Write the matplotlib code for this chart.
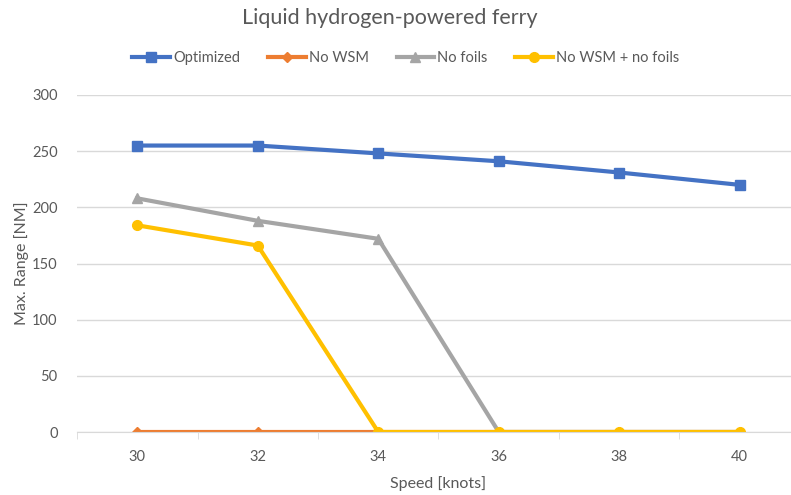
import matplotlib.pyplot as plt

speeds = ['30', '32', '34', '36', '38', '40']
optimized = [255, 255, 248, 241, 231, 220]
no_wsm = [0, 0, 0, 0, 0, 0]
no_foils = [208, 188, 172, 0, 0, 0]
no_wsm_no_foils = [184, 166, 0, 0, 0, 0]

plt.rcParams['font.family'] = ['Lato', 'DejaVu Sans']
txt = '#595959'

fig = plt.figure(figsize=(7.91, 4.95), dpi=100)
ax = fig.add_axes([77 / 791, 1 - 432 / 495, 723 / 791, 337 / 495])

x = list(range(len(speeds)))
ax.plot(x, optimized, color='#4472C4', lw=3, marker='s', ms=7, label='Optimized')
ax.plot(x, no_wsm, color='#ED7D31', lw=3, marker='D', ms=5, label='No WSM')
ax.plot(x, no_foils, color='#A5A5A5', lw=3, marker='^', ms=7, label='No foils')
ax.plot(x, no_wsm_no_foils, color='#FFC000', lw=3, marker='o', ms=7, label='No WSM + no foils')

ax.set_xlim(-0.5, len(speeds) - 0.5)
ax.set_ylim(0, 300)
ax.set_yticks(range(0, 301, 50))
ax.set_xticks(x)
ax.set_xticklabels(speeds)
ax.set_xticks([i - 0.5 for i in range(len(speeds) + 1)], minor=True)
ax.tick_params(axis='x', which='major', length=0, pad=13, labelsize=10.5, labelcolor=txt)
ax.tick_params(axis='x', which='minor', length=5, color='#D9D9D9', direction='out')
ax.tick_params(axis='y', length=0, pad=14, labelsize=10.5, labelcolor=txt)

ax.grid(axis='y', color='#D9D9D9', lw=1)
ax.set_axisbelow(True)
for s in ['top', 'right', 'left']:
    ax.spines[s].set_visible(False)
ax.spines['bottom'].set_color('#D9D9D9')

ax.set_xlabel('Speed [knots]', fontsize=11.5, color=txt, labelpad=9)
ax.set_ylabel('Max. Range [NM]', fontsize=11.5, color=txt, labelpad=2)

fig.text(390 / 791, 1 - 18 / 495, 'Liquid hydrogen-powered ferry', ha='center', va='center',
         fontsize=15.5, color=txt)
fig.legend(loc='center', bbox_to_anchor=(406 / 791, 1 - 58 / 495), ncol=4, frameon=False,
           fontsize=10.5, labelcolor=txt, handlelength=2.6, handletextpad=0.2, columnspacing=1.9)

fig.savefig('out.png', dpi=100)
